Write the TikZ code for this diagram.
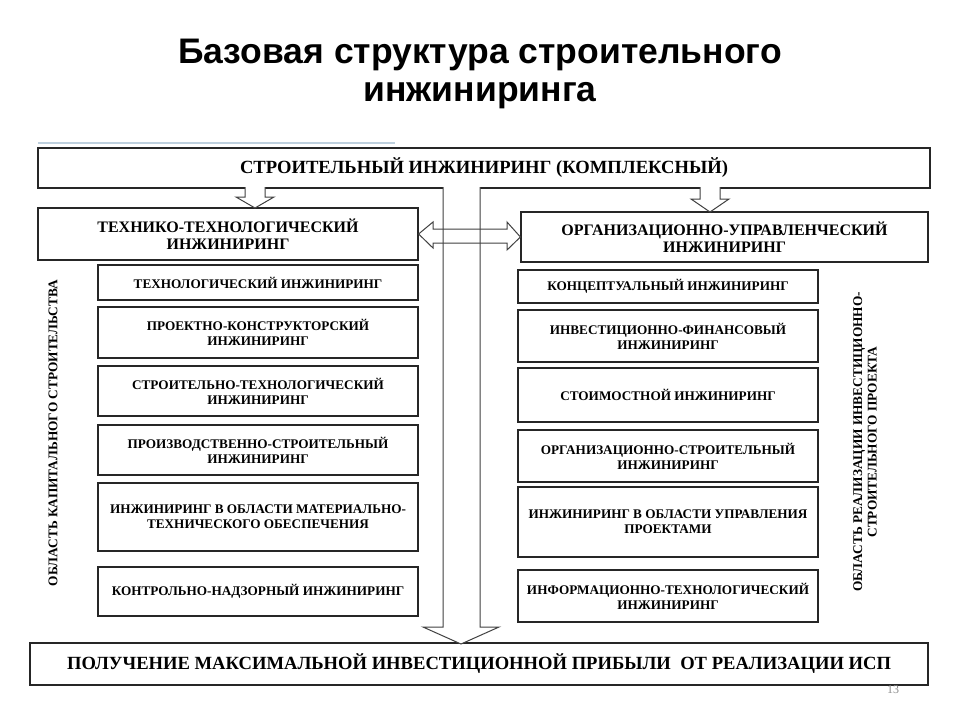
\documentclass[tikz,border=0pt]{standalone}
\usepackage{fontspec}
\setmainfont{Liberation Serif}
\newfontfamily\titlefont{Liberation Sans}
\definecolor{fadeblue}{RGB}{190,208,222}

\begin{document}
\begin{tikzpicture}[x=1pt, y=-1pt,
    box/.style={draw=black!85, line width=1.2pt, rectangle, align=center, inner sep=1pt},
    wide/.style={box, font=\bfseries\fontsize{18.6}{20}\selectfont},
    group/.style={box, font=\bfseries\fontsize{16}{17}\selectfont},
    item/.style={box, font=\bfseries\fontsize{13.2}{15}\selectfont},
    litem/.style={item, minimum width=320pt},
    ritem/.style={item, minimum width=300pt},
    sidelabel/.style={rotate=90, align=center, font=\bfseries\fontsize{13.3}{14.5}\selectfont},
    hollow/.style={draw=black!75, line width=1pt}]
  \useasboundingbox (0,0) rectangle (960,720);

  \node[font=\titlefont\bfseries\fontsize{35.5}{38}\selectfont, align=center] (title) at (480,74) {Базовая структура строительного\\инжиниринга};
  \draw[fadeblue, line width=2pt] (38,143) -- (395,143);

  % top and bottom bars
  \node[wide, minimum width=892pt, minimum height=40pt] (complex) at (484,168) {СТРОИТЕЛЬНЫЙ ИНЖИНИРИНГ (КОМПЛЕКСНЫЙ)};
  \node[wide, minimum width=898pt, minimum height=42pt] (profit) at (479,664) {ПОЛУЧЕНИЕ МАКСИМАЛЬНОЙ ИНВЕСТИЦИОННОЙ ПРИБЫЛИ\ \ ОТ РЕАЛИЗАЦИИ ИСП};

  % two groups
  \node[group, minimum width=380pt, minimum height=52pt] (tech) at (228,234) {ТЕХНИКО-ТЕХНОЛОГИЧЕСКИЙ\\ИНЖИНИРИНГ};
  \node[group, minimum width=407pt, minimum height=50pt] (org) at (724.5,237) {ОРГАНИЗАЦИОННО-УПРАВЛЕНЧЕСКИЙ\\ИНЖИНИРИНГ};

  % left column
  \node[litem, minimum height=35pt] (l1) at (258,282.5) {ТЕХНОЛОГИЧЕСКИЙ ИНЖИНИРИНГ};
  \node[litem, minimum height=51pt] (l2) at (258,332.5) {ПРОЕКТНО-КОНСТРУКТОРСКИЙ\\ИНЖИНИРИНГ};
  \node[litem, minimum height=50pt] (l3) at (258,391) {СТРОИТЕЛЬНО-ТЕХНОЛОГИЧЕСКИЙ\\ИНЖИНИРИНГ};
  \node[litem, minimum height=50pt] (l4) at (258,450) {ПРОИЗВОДСТВЕННО-СТРОИТЕЛЬНЫЙ\\ИНЖИНИРИНГ};
  \node[litem, minimum height=68pt] (l5) at (258,517) {ИНЖИНИРИНГ В ОБЛАСТИ МАТЕРИАЛЬНО-\\ТЕХНИЧЕСКОГО ОБЕСПЕЧЕНИЯ};
  \node[litem, minimum height=49pt] (l6) at (258,591.5) {КОНТРОЛЬНО-НАДЗОРНЫЙ ИНЖИНИРИНГ};

  % right column
  \node[ritem, minimum height=33pt] (r1) at (668,286.5) {КОНЦЕПТУАЛЬНЫЙ ИНЖИНИРИНГ};
  \node[ritem, minimum height=52pt] (r2) at (668,336) {ИНВЕСТИЦИОННО-ФИНАНСОВЫЙ\\ИНЖИНИРИНГ};
  \node[ritem, minimum height=54pt] (r3) at (668,395) {СТОИМОСТНОЙ ИНЖИНИРИНГ};
  \node[ritem, minimum height=52pt] (r4) at (668,456) {ОРГАНИЗАЦИОННО-СТРОИТЕЛЬНЫЙ\\ИНЖИНИРИНГ};
  \node[ritem, minimum height=70pt] (r5) at (668,522) {ИНЖИНИРИНГ В ОБЛАСТИ УПРАВЛЕНИЯ\\ПРОЕКТАМИ};
  \node[ritem, minimum height=52pt] (r6) at (668,596) {ИНФОРМАЦИОННО-ТЕХНОЛОГИЧЕСКИЙ\\ИНЖИНИРИНГ};

  % side labels
  \node[sidelabel] (capital) at (53,433) {ОБЛАСТЬ КАПИТАЛЬНОГО СТРОИТЕЛЬСТВА};
  \node[sidelabel] (invest) at (865,442) {ОБЛАСТЬ РЕАЛИЗАЦИИ ИНВЕСТИЦИОННО-\\СТРОИТЕЛЬНОГО ПРОЕКТА};

  % hollow arrows
  \draw[hollow, fill=white] (245,187) -- (245,197) -- (236,197) -- (255,208) -- (274,197) -- (265,197) -- (265,187);
  \draw[hollow, fill=white] (700,187) -- (700,199) -- (691,199) -- (710,212) -- (729,199) -- (720,199) -- (720,187);
  \draw[hollow, fill=white] (443,187) -- (443,627) -- (423,627) -- (461,644) -- (499,627) -- (480,627) -- (480,187);
  \draw[hollow] (tech.east) -- (433,222) -- (433,229) -- (507,229) -- (507,222) -- (org.west) -- (507,250) -- (507,243) -- (433,243) -- (433,248) -- cycle;

  \node[text=black!45, font=\fontsize{12}{12}\selectfont] (pagenum) at (893,690) {13};
\end{tikzpicture}
\end{document}
